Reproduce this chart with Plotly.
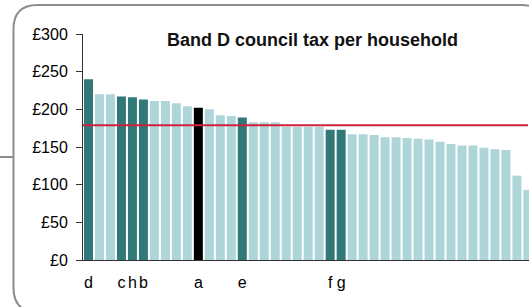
import plotly.graph_objects as go

# ---- data ----
values = [240, 220, 220, 217, 216, 213, 211, 211, 208, 204, 202, 200, 192, 191, 189,
          183, 183, 183, 177, 177, 177, 177, 173, 173, 167, 167, 166, 163, 163, 162,
          161, 160, 157, 154, 152, 152, 149, 147, 146, 112, 93]
labels = ["d", "", "", "c", "h", "b", "", "", "", "", "a", "", "", "", "e",
          "", "", "", "", "", "", "", "f", "g", "", "", "", "", "", "",
          "", "", "", "", "", "", "", "", "", "", ""]
highlight = ["dark", "light", "light", "dark", "dark", "dark", "light", "light", "light", "light",
             "black", "light", "light", "light", "dark", "light", "light", "light", "light", "light",
             "light", "light", "dark", "dark", "light", "light", "light", "light", "light", "light",
             "light", "light", "light", "light", "light", "light", "light", "light", "light", "light", "light"]
average = 178.8
title = "Band D council tax per household"
y_ticks = [0, 50, 100, 150, 200, 250, 300]
y_tick_text = ["£0", "£50", "£100", "£150", "£200", "£250", "£300"]

palette = {"dark": "#317878", "light": "#AED5D8", "black": "#000000"}
colors = [palette[h] for h in highlight]
xs = list(range(len(values)))

W, H = 529, 307
L, R, T, B = 83, 0, 34, 47
pw, ph = W - L - R, H - T - B


def px(x):
    return (x - L) / pw


def py(y):
    return (H - B - y) / ph


fig = go.Figure()
fig.add_trace(go.Bar(x=xs, y=values, marker=dict(color=colors, line=dict(width=0)),
                     hoverinfo="skip"))

# rounded border frame
l, t, r, b, rad = 13.5, 5, 545, 312, 24
path = (f"M {px(l)},{py(t + rad)} Q {px(l)},{py(t)} {px(l + rad)},{py(t)} "
        f"L {px(r - rad)},{py(t)} Q {px(r)},{py(t)} {px(r)},{py(t + rad)} "
        f"L {px(r)},{py(b - rad)} Q {px(r)},{py(b)} {px(r - rad)},{py(b)} "
        f"L {px(l + rad)},{py(b)} Q {px(l)},{py(b)} {px(l)},{py(b - rad)} Z")
shapes = [
    dict(type="path", xref="paper", yref="paper", path=path,
         line=dict(color="#8C8C8C", width=2), fillcolor="rgba(0,0,0,0)"),
    dict(type="line", xref="paper", yref="paper", x0=px(0), x1=px(13.5), y0=py(157), y1=py(157),
         line=dict(color="#8C8C8C", width=2)),
    dict(type="line", xref="paper", yref="y", x0=0, x1=px(528), y0=average, y1=average,
         line=dict(color="#D0203E", width=2)),
]

fig.update_layout(
    width=W, height=H,
    margin=dict(l=L, r=R, t=T, b=B),
    paper_bgcolor="white", plot_bgcolor="white",
    showlegend=False,
    bargap=0.18,
    font=dict(family="Liberation Sans, Arial, sans-serif", color="#000000", size=15),
    shapes=shapes,
    annotations=[dict(text=f"<b>{title}</b>", xref="paper", yref="paper",
                      x=px(312), y=py(40), xanchor="center", yanchor="middle",
                      showarrow=False, font=dict(size=18, color="#111111"))],
)
fig.update_xaxes(range=[-0.5, 40.1], tickmode="array", tickvals=xs, ticktext=labels,
                 showgrid=False, zeroline=False, showline=True, linecolor="#333333", linewidth=1,
                 ticks="", ticklabelstandoff=8, tickfont=dict(size=16))
fig.update_yaxes(range=[0, 300], tickmode="array", tickvals=y_ticks, ticktext=y_tick_text,
                 showgrid=False, zeroline=False, showline=True, linecolor="#333333", linewidth=1,
                 ticks="outside", ticklen=6, tickcolor="#333333", ticklabelstandoff=5,
                 tickfont=dict(size=16))

fig.write_html("out.html", config={"displayModeBar": False},
               post_script="document.body.style.margin='0';")
